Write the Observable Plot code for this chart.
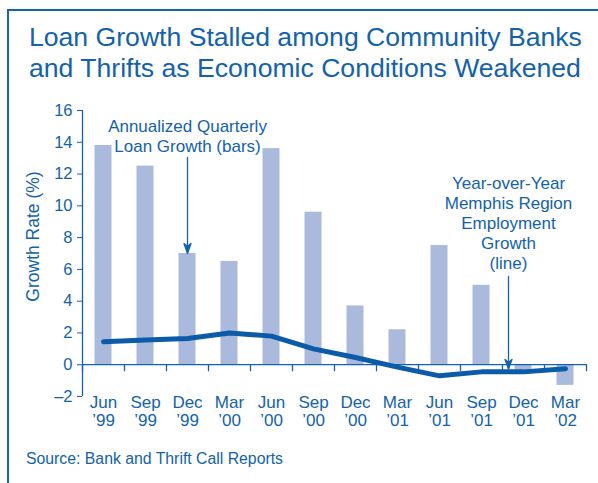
<!DOCTYPE html>
<html><head><meta charset="utf-8">
<script src="https://cdn.jsdelivr.net/npm/d3@7"></script>
<script src="https://cdn.jsdelivr.net/npm/@observablehq/plot@0.6"></script>
<style>
body{margin:0;background:#fff;}
#wrap{position:relative;width:598px;height:483px;overflow:hidden;font-family:"Liberation Sans",Arial,sans-serif;color:#1262ad;background:#fff;}
#frame{position:absolute;left:7px;top:9px;width:700px;height:600px;border-left:2px solid #1464b0;border-top:2px solid #1464b0;}
#title{position:absolute;left:29px;top:22px;font-size:26.6px;line-height:31px;white-space:nowrap;}
#chart{position:absolute;left:0;top:0;}
#source{position:absolute;left:26px;top:450px;font-size:15.8px;white-space:nowrap;}
</style></head>
<body><div id="wrap"><div id="frame"></div><div id="chart"></div>
<div id="title">Loan Growth Stalled among Community Banks<br>and Thrifts as Economic Conditions Weakened</div>
<div id="source">Source: Bank and Thrift Call Reports</div></div>
<script>
// Data
const months = ["Jun","Sep","Dec","Mar","Jun","Sep","Dec","Mar","Jun","Sep","Dec","Mar"];
const years = ["’99","’99","’99","’00","’00","’00","’00","’01","’01","’01","’01","’02"];
const loanGrowth = [13.8, 12.5, 7.0, 6.5, 13.6, 9.6, 3.7, 2.2, 7.5, 5.0, -0.4, -1.3];
const employmentGrowth = [1.45, 1.55, 1.65, 2.0, 1.8, 1.0, 0.45, -0.15, -0.7, -0.45, -0.45, -0.25];
const yTicks = [-2, 0, 2, 4, 6, 8, 10, 12, 14, 16];
const barNote = "Annualized Quarterly\nLoan Growth (bars)";
const lineNote = "Year-over-Year\nMemphis Region\nEmployment\nGrowth\n(line)";
const yLabel = "Growth Rate (%)";

const textColor = "#1262ad";
const barColor = "#a9badc";
const lineColor = "#0b5ba8";

const rows = months.map((m, i) => ({i, label: m + "\n" + years[i], loan: loanGrowth[i], emp: employmentGrowth[i]}));
const bounds = d3.range(months.length + 1);

const tickShape = {draw(ctx, l) { ctx.moveTo(0, 0); ctx.lineTo(0, -l); }};
const arrowShape = {draw(ctx, l) {
  ctx.moveTo(0, 0); ctx.lineTo(0, -l + 4);
  ctx.moveTo(-3.5, -l + 10); ctx.lineTo(0, -l); ctx.lineTo(3.5, -l + 10); ctx.lineTo(0, -l + 7); ctx.closePath();
}};

const chart = Plot.plot({
  width: 598, height: 483,
  marginTop: 110, marginBottom: 87, marginLeft: 82, marginRight: 12,
  style: {fontFamily: "'Liberation Sans', Arial, sans-serif", fontSize: "16.5px", color: textColor, background: "transparent", overflow: "visible"},
  x: {domain: [0, months.length], axis: null},
  y: {domain: [yTicks[0], yTicks[yTicks.length - 1]], ticks: yTicks, tickSize: 5, tickPadding: 5, label: null, tickFormat: d => d < 0 ? "–" + Math.abs(d) : String(d)},
  marks: [
    Plot.rectY(rows, {x1: d => d.i, x2: d => d.i + 1, y1: 0, y2: "loan", insetLeft: 12.5, insetRight: 12.5, fill: barColor}),
    Plot.ruleX([0], {y1: yTicks[0], y2: yTicks[yTicks.length - 1], stroke: textColor, strokeWidth: 1.3}),
    Plot.ruleY([0], {x1: bounds[0], x2: bounds[bounds.length - 1], stroke: textColor, strokeWidth: 1.3}),
    Plot.vector(bounds, {x: d => d, y: 0, length: 6, rotate: 180, anchor: "start", shape: tickShape, stroke: textColor, strokeWidth: 1.3}),
    Plot.line(rows, {x: d => d.i + 0.5, y: "emp", stroke: lineColor, strokeWidth: 5, strokeLinecap: "round", strokeLinejoin: "round"}),
    Plot.text(rows, {x: d => d.i + 0.5, frameAnchor: "bottom", text: "label", lineAnchor: "top", lineHeight: 1.05, dy: -1, fontSize: 17, fill: textColor}),
    Plot.text([barNote], {x: rows[2].i + 0.5, frameAnchor: "top", text: d => d, lineAnchor: "top", lineHeight: 1.2, dy: 6.7, fontSize: 17, fill: textColor}),
    Plot.vector([rows[2]], {x: d => d.i + 0.5, y: "loan", rotate: 180, anchor: "end", length: 96, shape: arrowShape, stroke: textColor, fill: textColor, strokeWidth: 1.3}),
    Plot.text([lineNote], {x: rows[10].i + 0.5, frameAnchor: "top", text: d => d, lineAnchor: "top", lineHeight: 1.18, dx: -15, dy: 64, fontSize: 17, fill: textColor}),
    Plot.vector([rows[10]], {x: d => d.i + 0.5, y: "emp", dx: -15, dy: -2.5, rotate: 180, anchor: "end", length: 93, shape: arrowShape, stroke: textColor, fill: textColor, strokeWidth: 1.3}),
    Plot.text([yLabel], {frameAnchor: "left", textAnchor: "middle", text: d => d, rotate: -90, dx: -49, dy: -17, fontSize: 17.5, fill: textColor})
  ]
});
document.getElementById("chart").appendChild(chart);
</script>
</body></html>
